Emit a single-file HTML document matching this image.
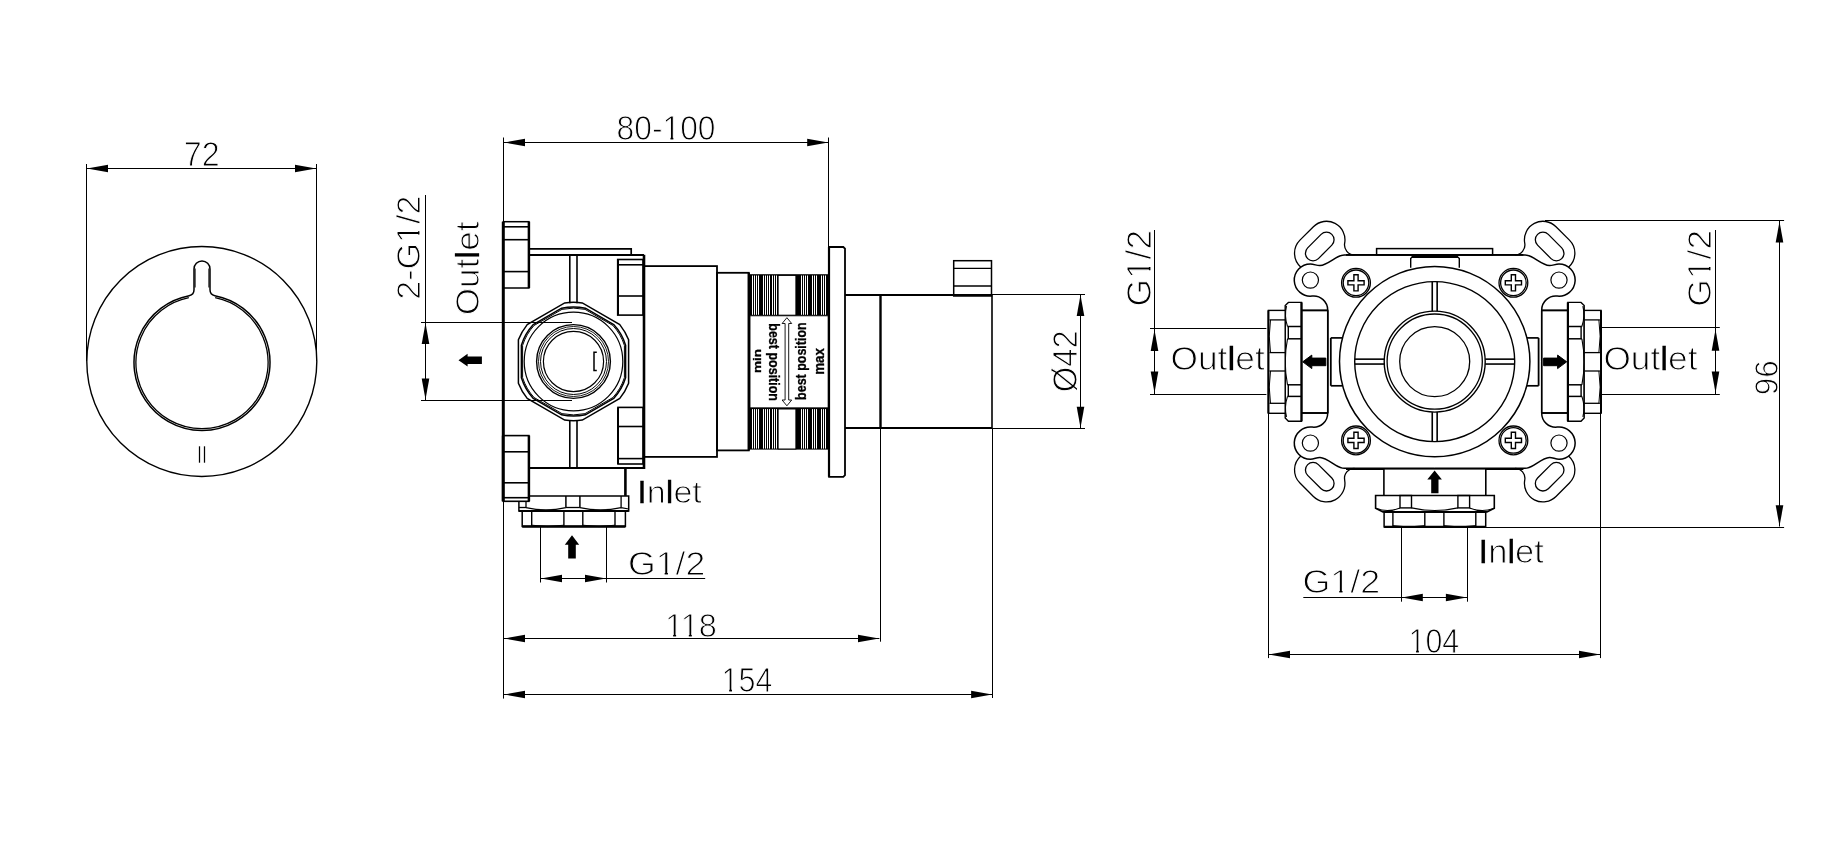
<!DOCTYPE html>
<html><head><meta charset="utf-8"><title>Drawing</title>
<style>html,body{margin:0;padding:0;background:#fff;}svg{display:block;will-change:transform;}
text{font-family:"Liberation Sans",sans-serif;fill:#000;}</style></head>
<body><svg width="1846" height="846" viewBox="0 0 1846 846">
<rect width="1846" height="846" fill="#fff"/>
<g stroke="#000" fill="none" stroke-linecap="butt">
<line x1="86.5" y1="164" x2="86.5" y2="361" stroke-width="1"/>
<line x1="316.5" y1="164" x2="316.5" y2="361" stroke-width="1"/>
<line x1="86.5" y1="168.5" x2="316.5" y2="168.5" stroke-width="1"/>
<polygon points="87,168.5 108,164.7 108,172.3" fill="#000" stroke-width="0"/>
<polygon points="316,168.5 295,164.7 295,172.3" fill="#000" stroke-width="0"/>
<text transform="translate(183.79,166.3) scale(0.32178,0.35143)" font-size="100" stroke="#fff" stroke-width="2.85">72</text>
<circle cx="201.8" cy="361.5" r="115" stroke-width="1.4" fill="none"/>
<path d="M194,269 A8,8 0 0 1 210,269 L210,289.84 A6,6 0 0 0 214.86,295.73 A68,68 0 1 1 189.14,295.73 A6,6 0 0 0 194,289.84 Z" stroke-width="1.5" fill="none"/>
<path d="M215.18,297.73 A66.1,66.1 0 1 1 188.82,297.73" stroke-width="1.3" fill="none"/>
<path d="M195.1,268.5 V287.5 M208.9,268.5 V287.5" stroke-width="1.0" fill="none"/>
<line x1="199.5" y1="446.3" x2="199.5" y2="462.7" stroke-width="1.25"/>
<line x1="204.5" y1="446.3" x2="204.5" y2="462.7" stroke-width="1.25"/>
<line x1="503.5" y1="137.5" x2="503.5" y2="221.5" stroke-width="1"/>
<line x1="828.5" y1="137.5" x2="828.5" y2="247" stroke-width="1"/>
<line x1="503.5" y1="142.5" x2="828.7" y2="142.5" stroke-width="1"/>
<polygon points="504,142.5 525,138.7 525,146.3" fill="#000" stroke-width="0"/>
<polygon points="828.2,142.5 807.2,138.7 807.2,146.3" fill="#000" stroke-width="0"/>
<text transform="translate(616.53,140.25) scale(0.31815,0.34648)" font-size="100" stroke="#fff" stroke-width="2.89">80-100</text>
<path transform="translate(616.53,140.25) scale(0.31815,0.34648)" d="M149.22,-10.4H169.48V3.42H149.22Z M178.71,-10.4H198.19V3.42H178.71Z" fill="#fff" stroke="none"/>
<line x1="425.5" y1="195" x2="425.5" y2="400.4" stroke-width="1"/>
<line x1="421" y1="322.5" x2="572" y2="322.5" stroke-width="1"/>
<line x1="421" y1="400.5" x2="572" y2="400.5" stroke-width="1"/>
<polygon points="425.5,323 421.7,344 429.3,344" fill="#000" stroke-width="0"/>
<polygon points="425.5,399.6 421.7,378.6 429.3,378.6" fill="#000" stroke-width="0"/>
<text transform="translate(420.47,299.8) rotate(-90) scale(0.34088,0.32838)" font-size="100" stroke="#fff" stroke-width="3.05">2-G1/2</text>
<path transform="translate(420.47,299.8) rotate(-90) scale(0.34088,0.32838)" d="M171.38,-10.4H191.64V3.42H171.38Z M200.87,-10.4H220.35V3.42H200.87Z" fill="#fff" stroke="none"/>
<text transform="translate(478.57,315.26) rotate(-90) scale(0.35134,0.33108)" font-size="100" stroke="#fff" stroke-width="3.02">Out<tspan stroke="#000" stroke-width="0.8">l</tspan>et</text>
<polygon points="458.5,360.2 467.6,353.8 467.6,356.4 481.9,356.4 481.9,364 467.6,364 467.6,366.6" fill="#000" stroke-width="0"/>
<rect x="503.3" y="221.7" width="25.6" height="66.3" stroke-width="1.5" fill="none"/>
<line x1="503.3" y1="226.8" x2="528.9" y2="226.8" stroke-width="1.6"/>
<line x1="503.3" y1="239.7" x2="528.9" y2="239.7" stroke-width="1.6"/>
<line x1="503.3" y1="271.6" x2="528.9" y2="271.6" stroke-width="1.6"/>
<line x1="528.9" y1="221.7" x2="528.9" y2="288" stroke-width="2.5"/>
<path d="M528.9,248.9 H631.2 V254.8" stroke-width="1.7" fill="none"/>
<line x1="528.9" y1="255" x2="644" y2="255" stroke-width="1.8"/>
<line x1="644" y1="254.8" x2="644" y2="469" stroke-width="2.6"/>
<line x1="503.3" y1="221.7" x2="503.3" y2="501.3" stroke-width="3"/>
<line x1="528.9" y1="468" x2="644" y2="468" stroke-width="1.8"/>
<line x1="569.8" y1="254.8" x2="569.8" y2="303.2" stroke-width="1.6"/>
<line x1="577" y1="254.8" x2="577" y2="303.2" stroke-width="1.6"/>
<line x1="569.8" y1="420" x2="569.8" y2="468.5" stroke-width="1.6"/>
<line x1="577" y1="420" x2="577" y2="468.5" stroke-width="1.6"/>
<rect x="617.7" y="259.5" width="25.3" height="55.6" stroke-width="1.6" fill="none"/>
<line x1="617.7" y1="264.8" x2="643" y2="264.8" stroke-width="1.6"/>
<line x1="617.7" y1="296" x2="643" y2="296" stroke-width="1.6"/>
<line x1="618" y1="259.5" x2="618" y2="315.1" stroke-width="2.0"/>
<rect x="618" y="407.4" width="25" height="56.6" stroke-width="1.6" fill="none"/>
<line x1="618" y1="426.5" x2="643" y2="426.5" stroke-width="1.6"/>
<line x1="618" y1="458.6" x2="643" y2="458.6" stroke-width="1.6"/>
<line x1="618" y1="407.4" x2="618" y2="464" stroke-width="2.0"/>
<path d="M564.7,302.96 A59.2,59.2 0 0 1 582.3,302.96 L619.8,324.61 A59.2,59.2 0 0 1 628.6,339.85 L628.6,383.15 A59.2,59.2 0 0 1 619.8,398.39 L582.3,420.04 A59.2,59.2 0 0 1 564.7,420.04 L527.2,398.39 A59.2,59.2 0 0 1 518.4,383.15 L518.4,339.85 A59.2,59.2 0 0 1 527.2,324.61 Z" stroke-width="1.5" fill="none"/>
<path d="M561.59,308.21 A54.6,54.6 0 0 1 585.41,308.21 L613.69,324.55 A54.6,54.6 0 0 1 625.6,345.17 L625.6,377.83 A54.6,54.6 0 0 1 613.69,398.45 L585.41,414.79 A54.6,54.6 0 0 1 561.59,414.79 L533.31,398.45 A54.6,54.6 0 0 1 521.4,377.83 L521.4,345.17 A54.6,54.6 0 0 1 533.31,324.55 Z" stroke-width="1.5" fill="none"/>
<path d="M562.03,309.35 A53.4,53.4 0 0 1 584.97,309.35 L612.93,325.49 A53.4,53.4 0 0 1 624.4,345.35 L624.4,377.65 A53.4,53.4 0 0 1 612.93,397.51 L584.97,413.65 A53.4,53.4 0 0 1 562.03,413.65 L534.07,397.51 A53.4,53.4 0 0 1 522.6,377.65 L522.6,345.35 A53.4,53.4 0 0 1 534.07,325.49 Z" stroke-width="1.0" fill="none"/>
<circle cx="573.5" cy="361.5" r="49.3" stroke-width="1.2" fill="none"/>
<circle cx="573.5" cy="361.5" r="36.9" stroke-width="1.4" fill="none"/>
<circle cx="573.5" cy="361.5" r="35" stroke-width="0.9" fill="none"/>
<circle cx="573.5" cy="361.5" r="33" stroke-width="1.0" fill="none"/>
<circle cx="573.5" cy="361.5" r="30.1" stroke-width="1.2" fill="none"/>
<path d="M596.8,352.3 H594 V370.4 H596.8" stroke-width="1.5" fill="none"/>
<rect x="644" y="266.1" width="73" height="190.8" stroke-width="1.8" fill="none"/>
<rect x="717" y="272.8" width="31.8" height="177.6" stroke-width="1.8" fill="none"/>
<line x1="748.8" y1="272.8" x2="748.8" y2="450.4" stroke-width="2.4"/>
<rect x="748.8" y="274.2" width="79.8" height="41.6" stroke-width="0" fill="#000"/>
<rect x="778.1" y="275.4" width="17.8" height="39.8" stroke-width="1.0" fill="#fff"/>
<line x1="752.5" y1="275.5" x2="752.5" y2="314.8" stroke="#fff" stroke-width="1"/>
<line x1="754.5" y1="275.5" x2="754.5" y2="314.8" stroke="#fff" stroke-width="1"/>
<line x1="756.5" y1="275.5" x2="756.5" y2="314.8" stroke="#fff" stroke-width="1"/>
<line x1="758.5" y1="275.5" x2="758.5" y2="314.8" stroke="#fff" stroke-width="1"/>
<line x1="763.5" y1="275.5" x2="763.5" y2="314.8" stroke="#fff" stroke-width="1"/>
<line x1="765.5" y1="275.5" x2="765.5" y2="314.8" stroke="#fff" stroke-width="1"/>
<line x1="767.5" y1="275.5" x2="767.5" y2="314.8" stroke="#fff" stroke-width="1"/>
<line x1="769.5" y1="275.5" x2="769.5" y2="314.8" stroke="#fff" stroke-width="1"/>
<line x1="772.5" y1="275.5" x2="772.5" y2="314.8" stroke="#fff" stroke-width="1"/>
<line x1="774.5" y1="275.5" x2="774.5" y2="314.8" stroke="#fff" stroke-width="1"/>
<line x1="776.5" y1="275.5" x2="776.5" y2="314.8" stroke="#fff" stroke-width="1"/>
<line x1="801.5" y1="275.5" x2="801.5" y2="314.8" stroke="#fff" stroke-width="1"/>
<line x1="803.5" y1="275.5" x2="803.5" y2="314.8" stroke="#fff" stroke-width="1"/>
<line x1="805.5" y1="275.5" x2="805.5" y2="314.8" stroke="#fff" stroke-width="1"/>
<line x1="807.5" y1="275.5" x2="807.5" y2="314.8" stroke="#fff" stroke-width="1"/>
<line x1="812.5" y1="275.5" x2="812.5" y2="314.8" stroke="#fff" stroke-width="1"/>
<line x1="814.5" y1="275.5" x2="814.5" y2="314.8" stroke="#fff" stroke-width="1"/>
<line x1="816.5" y1="275.5" x2="816.5" y2="314.8" stroke="#fff" stroke-width="1"/>
<line x1="821.5" y1="275.5" x2="821.5" y2="314.8" stroke="#fff" stroke-width="1"/>
<line x1="823.5" y1="275.5" x2="823.5" y2="314.8" stroke="#fff" stroke-width="1"/>
<line x1="825.5" y1="275.5" x2="825.5" y2="314.8" stroke="#fff" stroke-width="1"/>
<rect x="748.8" y="407.8" width="79.8" height="41.8" stroke-width="0" fill="#000"/>
<rect x="778.1" y="409" width="17.8" height="40" stroke-width="1.0" fill="#fff"/>
<line x1="752.5" y1="409.1" x2="752.5" y2="448.6" stroke="#fff" stroke-width="1"/>
<line x1="754.5" y1="409.1" x2="754.5" y2="448.6" stroke="#fff" stroke-width="1"/>
<line x1="756.5" y1="409.1" x2="756.5" y2="448.6" stroke="#fff" stroke-width="1"/>
<line x1="758.5" y1="409.1" x2="758.5" y2="448.6" stroke="#fff" stroke-width="1"/>
<line x1="763.5" y1="409.1" x2="763.5" y2="448.6" stroke="#fff" stroke-width="1"/>
<line x1="765.5" y1="409.1" x2="765.5" y2="448.6" stroke="#fff" stroke-width="1"/>
<line x1="767.5" y1="409.1" x2="767.5" y2="448.6" stroke="#fff" stroke-width="1"/>
<line x1="769.5" y1="409.1" x2="769.5" y2="448.6" stroke="#fff" stroke-width="1"/>
<line x1="772.5" y1="409.1" x2="772.5" y2="448.6" stroke="#fff" stroke-width="1"/>
<line x1="774.5" y1="409.1" x2="774.5" y2="448.6" stroke="#fff" stroke-width="1"/>
<line x1="776.5" y1="409.1" x2="776.5" y2="448.6" stroke="#fff" stroke-width="1"/>
<line x1="801.5" y1="409.1" x2="801.5" y2="448.6" stroke="#fff" stroke-width="1"/>
<line x1="803.5" y1="409.1" x2="803.5" y2="448.6" stroke="#fff" stroke-width="1"/>
<line x1="805.5" y1="409.1" x2="805.5" y2="448.6" stroke="#fff" stroke-width="1"/>
<line x1="807.5" y1="409.1" x2="807.5" y2="448.6" stroke="#fff" stroke-width="1"/>
<line x1="812.5" y1="409.1" x2="812.5" y2="448.6" stroke="#fff" stroke-width="1"/>
<line x1="814.5" y1="409.1" x2="814.5" y2="448.6" stroke="#fff" stroke-width="1"/>
<line x1="816.5" y1="409.1" x2="816.5" y2="448.6" stroke="#fff" stroke-width="1"/>
<line x1="821.5" y1="409.1" x2="821.5" y2="448.6" stroke="#fff" stroke-width="1"/>
<line x1="823.5" y1="409.1" x2="823.5" y2="448.6" stroke="#fff" stroke-width="1"/>
<line x1="825.5" y1="409.1" x2="825.5" y2="448.6" stroke="#fff" stroke-width="1"/>
<rect x="750" y="315.8" width="78.2" height="92" stroke-width="0.9" fill="#fff"/>
<text transform="translate(760.95,373.1) rotate(-90) scale(0.13576,0.11370)" font-size="100" font-weight="bold" stroke="#000" stroke-width="2.64">min</text>
<text transform="translate(769.47,323.28) rotate(90) scale(0.12496,0.14362)" font-size="100" font-weight="bold" stroke="#000" stroke-width="2.09">best position</text>
<text transform="translate(805.7,399.92) rotate(-90) scale(0.12479,0.15000)" font-size="100" font-weight="bold" stroke="#000" stroke-width="2.00">best position</text>
<text transform="translate(824.01,374.68) rotate(-90) scale(0.13281,0.13818)" font-size="100" font-weight="bold" stroke="#000" stroke-width="2.17">max</text>
<path d="M786.9,317.7 L791.7,323.5 L788.7,323.5 L788.7,400 L791.7,400 L786.9,405.8 L782.1,400 L785.1,400 L785.1,323.5 L782.1,323.5 Z" stroke-width="0.9" fill="#fff"/>
<path d="M829.1,247 H843.3 L845,248.7 V475.1 L843.3,476.8 H829.1 Z" stroke-width="1.8" fill="none"/>
<line x1="829" y1="247" x2="829" y2="476.8" stroke-width="2.2"/>
<line x1="845" y1="295" x2="992" y2="295" stroke-width="1.8"/>
<line x1="845" y1="428" x2="992" y2="428" stroke-width="1.8"/>
<line x1="880.5" y1="294.6" x2="880.5" y2="428.2" stroke-width="2.4"/>
<line x1="992" y1="294.6" x2="992" y2="428.2" stroke-width="1.6"/>
<rect x="953.7" y="260.7" width="37.8" height="35.3" stroke-width="1.5" fill="none"/>
<line x1="953.7" y1="268.4" x2="991.5" y2="268.4" stroke-width="1.4"/>
<line x1="953.7" y1="286" x2="991.5" y2="286" stroke-width="1.4"/>
<line x1="880.5" y1="428.2" x2="880.5" y2="641.7" stroke-width="1"/>
<line x1="992.5" y1="428.2" x2="992.5" y2="698" stroke-width="1"/>
<line x1="992" y1="294.5" x2="1085" y2="294.5" stroke-width="1"/>
<line x1="992" y1="428.5" x2="1085" y2="428.5" stroke-width="1"/>
<line x1="1080.5" y1="294.5" x2="1080.5" y2="428.2" stroke-width="1"/>
<polygon points="1080.5,295 1076.7,316 1084.3,316" fill="#000" stroke-width="0"/>
<polygon points="1080.5,427.7 1076.7,406.7 1084.3,406.7" fill="#000" stroke-width="0"/>
<text transform="translate(1077.42,392.21) rotate(-90) scale(0.32833,0.34189)" font-size="100" stroke="#fff" stroke-width="2.92">Ø42</text>
<line x1="528.4" y1="468.5" x2="528.4" y2="495.9" stroke-width="1.5"/>
<line x1="625.4" y1="468.5" x2="625.4" y2="495.9" stroke-width="2.6"/>
<path d="M528.4,495.9 H628.7 V510.9 H518.9 V501.4" stroke-width="1.5" fill="#fff"/>
<line x1="518.9" y1="511" x2="628.7" y2="511" stroke-width="2.0"/>
<line x1="526" y1="501.4" x2="526" y2="507.5" stroke-width="1.3"/>
<line x1="518.9" y1="507.5" x2="526" y2="507.5" stroke-width="1.3"/>
<line x1="565.9" y1="495.9" x2="565.9" y2="507.5" stroke-width="1.5"/>
<line x1="579.9" y1="495.9" x2="579.9" y2="507.5" stroke-width="1.5"/>
<line x1="621.1" y1="495.9" x2="621.1" y2="507.5" stroke-width="1.3"/>
<line x1="565.9" y1="507.5" x2="579.9" y2="507.5" stroke-width="1.3"/>
<path d="M526,507.6 Q546,512.2 565.9,507.6 M579.9,507.6 Q600.5,512.2 621.1,507.6 M621.1,507.6 L628.7,509" stroke-width="1.1" fill="none"/>
<rect x="522.2" y="510.9" width="103.2" height="15.5" stroke-width="1.5" fill="none"/>
<line x1="522.2" y1="526.4" x2="625.4" y2="526.4" stroke-width="2.5"/>
<line x1="531.7" y1="510.9" x2="531.7" y2="526.4" stroke-width="1.4"/>
<line x1="563.9" y1="510.9" x2="563.9" y2="526.4" stroke-width="1.4"/>
<line x1="582.8" y1="510.9" x2="582.8" y2="526.4" stroke-width="1.4"/>
<line x1="615" y1="510.9" x2="615" y2="526.4" stroke-width="1.4"/>
<path d="M531.7,525.2 Q547.8,528 563.9,525.2 M582.8,525.2 Q598.9,528 615,525.2" stroke-width="1.0" fill="none"/>
<rect x="503.3" y="435.6" width="25.6" height="65.7" stroke-width="1.6" fill="#fff"/>
<line x1="528.9" y1="435.6" x2="528.9" y2="501.3" stroke-width="2.5"/>
<line x1="503.3" y1="451.8" x2="528.9" y2="451.8" stroke-width="1.6"/>
<line x1="503.3" y1="482.8" x2="528.9" y2="482.8" stroke-width="1.6"/>
<line x1="503.3" y1="497.7" x2="528.9" y2="497.7" stroke-width="1.6"/>
<line x1="503.3" y1="435.6" x2="503.3" y2="501.3" stroke-width="3"/>
<line x1="540.5" y1="527" x2="540.5" y2="582.5" stroke-width="1"/>
<line x1="606.5" y1="527" x2="606.5" y2="582.5" stroke-width="1"/>
<line x1="540.5" y1="578.5" x2="705.2" y2="578.5" stroke-width="1"/>
<polygon points="541,578.5 562,574.7 562,582.3" fill="#000" stroke-width="0"/>
<polygon points="606,578.5 585,574.7 585,582.3" fill="#000" stroke-width="0"/>
<text transform="translate(628.12,574.76) scale(0.35556,0.33784)" font-size="100" stroke="#fff" stroke-width="2.96">G1/2</text>
<path transform="translate(628.12,574.76) scale(0.35556,0.33784)" d="M82.47,-10.4H102.73V3.42H82.47Z M111.96,-10.4H131.44V3.42H111.96Z" fill="#fff" stroke="none"/>
<polygon points="572,535.3 579.2,544.7 575.8,544.7 575.8,558.6 568.2,558.6 568.2,544.7 564.8,544.7" fill="#000" stroke-width="0"/>
<text transform="translate(637.33,503.08) scale(0.34134,0.32027)" font-size="100" stroke="#fff" stroke-width="3.12"><tspan stroke="#000" stroke-width="0.8">I</tspan>n<tspan stroke="#000" stroke-width="0.8">l</tspan>et</text>
<line x1="503.5" y1="501.3" x2="503.5" y2="698.6" stroke-width="1"/>
<line x1="503.5" y1="638.5" x2="879.4" y2="638.5" stroke-width="1"/>
<polygon points="504,638.5 525,634.7 525,642.3" fill="#000" stroke-width="0"/>
<polygon points="879,638.5 858,634.7 858,642.3" fill="#000" stroke-width="0"/>
<text transform="translate(664.99,636.56) scale(0.32585,0.33803)" font-size="100" stroke="#fff" stroke-width="2.96">118</text>
<path transform="translate(664.99,636.56) scale(0.32585,0.33803)" d="M4.69,-10.4H24.95V3.42H4.69Z M34.18,-10.4H53.66V3.42H34.18Z M52.88,-10.4H73.14V3.42H52.88Z M82.37,-10.4H101.85V3.42H82.37Z" fill="#fff" stroke="none"/>
<line x1="503.5" y1="694.5" x2="992.6" y2="694.5" stroke-width="1"/>
<polygon points="504,694.5 525,690.7 525,698.3" fill="#000" stroke-width="0"/>
<polygon points="992.1,694.5 971.1,690.7 971.1,698.3" fill="#000" stroke-width="0"/>
<text transform="translate(721.56,692.35) scale(0.30513,0.34571)" font-size="100" stroke="#fff" stroke-width="2.89">154</text>
<path transform="translate(721.56,692.35) scale(0.30513,0.34571)" d="M4.69,-10.4H24.95V3.42H4.69Z M34.18,-10.4H53.66V3.42H34.18Z" fill="#fff" stroke="none"/>
<!--RIGHT-->
<g id="qtl"><path d="M1327.7,361.6 V310.02 A14,14 0 0 0 1312.17,296.1 A16.1,16.1 0 1 1 1310.4,264 C1314,264 1317,265.8 1320,265.6 C1325,265.3 1330,261.5 1335.5,258.1 C1339,256 1341.5,254.9 1344.3,254.9 H1434.7" stroke-width="1.5" fill="none"/>
<path d="M1300.85,267.14 A18.5,18.5 0 0 1 1299.95,240.14 L1313.39,226.7 A18.5,18.5 0 0 1 1344.67,243.1 A10,10 0 0 0 1354.5,254.9" stroke-width="1.3" fill="none"/>
<rect x="1302.65" y="238.9" width="34.2" height="15.2" rx="7.6" transform="rotate(-45 1319.75 246.5)" stroke-width="1.3" fill="none"/>
<circle cx="1310.4" cy="280.1" r="8.1" stroke-width="1.2" fill="none"/>
<circle cx="1356" cy="282.8" r="14.4" stroke-width="1.3" fill="none"/>
<circle cx="1356" cy="282.8" r="12.8" stroke-width="1.3" fill="none"/>
<path d="M1353.9,274.7 H1358.1 V280.7 H1364.1 V284.9 H1358.1 V290.9 H1353.9 V284.9 H1347.9 V280.7 H1353.9 Z" stroke-width="1.4" fill="none"/></g>
<g transform="matrix(-1,0,0,1,2869.4,0)"><path d="M1327.7,361.6 V310.02 A14,14 0 0 0 1312.17,296.1 A16.1,16.1 0 1 1 1310.4,264 C1314,264 1317,265.8 1320,265.6 C1325,265.3 1330,261.5 1335.5,258.1 C1339,256 1341.5,254.9 1344.3,254.9 H1434.7" stroke-width="1.5" fill="none"/>
<path d="M1300.85,267.14 A18.5,18.5 0 0 1 1299.95,240.14 L1313.39,226.7 A18.5,18.5 0 0 1 1344.67,243.1 A10,10 0 0 0 1354.5,254.9" stroke-width="1.3" fill="none"/>
<rect x="1302.65" y="238.9" width="34.2" height="15.2" rx="7.6" transform="rotate(-45 1319.75 246.5)" stroke-width="1.3" fill="none"/>
<circle cx="1310.4" cy="280.1" r="8.1" stroke-width="1.2" fill="none"/>
<circle cx="1356" cy="282.8" r="14.4" stroke-width="1.3" fill="none"/>
<circle cx="1356" cy="282.8" r="12.8" stroke-width="1.3" fill="none"/>
<path d="M1353.9,274.7 H1358.1 V280.7 H1364.1 V284.9 H1358.1 V290.9 H1353.9 V284.9 H1347.9 V280.7 H1353.9 Z" stroke-width="1.4" fill="none"/></g>
<g transform="matrix(1,0,0,-1,0,723.2)"><path d="M1327.7,361.6 V310.02 A14,14 0 0 0 1312.17,296.1 A16.1,16.1 0 1 1 1310.4,264 C1314,264 1317,265.8 1320,265.6 C1325,265.3 1330,261.5 1335.5,258.1 C1339,256 1341.5,254.9 1344.3,254.9 H1434.7" stroke-width="1.5" fill="none"/>
<path d="M1300.85,267.14 A18.5,18.5 0 0 1 1299.95,240.14 L1313.39,226.7 A18.5,18.5 0 0 1 1344.67,243.1 A10,10 0 0 0 1354.5,254.9" stroke-width="1.3" fill="none"/>
<rect x="1302.65" y="238.9" width="34.2" height="15.2" rx="7.6" transform="rotate(-45 1319.75 246.5)" stroke-width="1.3" fill="none"/>
<circle cx="1310.4" cy="280.1" r="8.1" stroke-width="1.2" fill="none"/>
<circle cx="1356" cy="282.8" r="14.4" stroke-width="1.3" fill="none"/>
<circle cx="1356" cy="282.8" r="12.8" stroke-width="1.3" fill="none"/>
<path d="M1353.9,274.7 H1358.1 V280.7 H1364.1 V284.9 H1358.1 V290.9 H1353.9 V284.9 H1347.9 V280.7 H1353.9 Z" stroke-width="1.4" fill="none"/></g>
<g transform="matrix(-1,0,0,-1,2869.4,723.2)"><path d="M1327.7,361.6 V310.02 A14,14 0 0 0 1312.17,296.1 A16.1,16.1 0 1 1 1310.4,264 C1314,264 1317,265.8 1320,265.6 C1325,265.3 1330,261.5 1335.5,258.1 C1339,256 1341.5,254.9 1344.3,254.9 H1434.7" stroke-width="1.5" fill="none"/>
<path d="M1300.85,267.14 A18.5,18.5 0 0 1 1299.95,240.14 L1313.39,226.7 A18.5,18.5 0 0 1 1344.67,243.1 A10,10 0 0 0 1354.5,254.9" stroke-width="1.3" fill="none"/>
<rect x="1302.65" y="238.9" width="34.2" height="15.2" rx="7.6" transform="rotate(-45 1319.75 246.5)" stroke-width="1.3" fill="none"/>
<circle cx="1310.4" cy="280.1" r="8.1" stroke-width="1.2" fill="none"/>
<circle cx="1356" cy="282.8" r="14.4" stroke-width="1.3" fill="none"/>
<circle cx="1356" cy="282.8" r="12.8" stroke-width="1.3" fill="none"/>
<path d="M1353.9,274.7 H1358.1 V280.7 H1364.1 V284.9 H1358.1 V290.9 H1353.9 V284.9 H1347.9 V280.7 H1353.9 Z" stroke-width="1.4" fill="none"/></g>
<g><rect x="1330.8" y="337.9" width="11.6" height="47.9" fill="#fff" stroke="none"/>
<line x1="1330.8" y1="337.9" x2="1342.4" y2="337.9" stroke-width="1.7"/>
<line x1="1330.8" y1="385.8" x2="1342.4" y2="385.8" stroke-width="1.7"/>
<line x1="1330.8" y1="337.9" x2="1330.8" y2="385.8" stroke-width="1.8"/>
<rect x="1301.5" y="310.4" width="26.2" height="102.6" stroke-width="1.3" fill="#fff"/>
<line x1="1301.5" y1="310.4" x2="1327.7" y2="310.4" stroke-width="1.8"/>
<line x1="1301.5" y1="413" x2="1327.7" y2="413" stroke-width="1.8"/>
<line x1="1327.7" y1="310.4" x2="1327.7" y2="413" stroke-width="1.5"/>
<path d="M1288.4,302.4 H1301.5 V421.2 H1288.4 L1285.2,418 V305.6 Z" stroke-width="1.4" fill="#fff"/>
<line x1="1301.5" y1="302.4" x2="1301.5" y2="421.2" stroke-width="2.2"/>
<line x1="1287.5" y1="326.5" x2="1301.5" y2="326.5" stroke-width="1.5"/>
<line x1="1287.5" y1="338.8" x2="1301.5" y2="338.8" stroke-width="1.5"/>
<line x1="1287.5" y1="384.8" x2="1301.5" y2="384.8" stroke-width="1.5"/>
<line x1="1287.5" y1="396.4" x2="1301.5" y2="396.4" stroke-width="1.5"/>
<line x1="1288.3" y1="326.5" x2="1288.3" y2="338.8" stroke-width="1.4"/>
<line x1="1288.3" y1="384.8" x2="1288.3" y2="396.4" stroke-width="1.4"/>
<path d="M1286.5,306 Q1284,316 1287.5,326.5 M1287.5,338.8 Q1283,361.6 1287.5,384.8 M1287.5,396.4 Q1284,407 1286.5,417" stroke-width="1.1" fill="none"/>
<rect x="1268.4" y="310.4" width="16.8" height="102.9" stroke-width="1.4" fill="#fff"/>
<line x1="1268.4" y1="310.4" x2="1268.4" y2="413.3" stroke-width="2.0"/>
<line x1="1269.5" y1="319.9" x2="1285.2" y2="319.9" stroke-width="1.3"/>
<line x1="1269.5" y1="352.6" x2="1285.2" y2="352.6" stroke-width="1.3"/>
<line x1="1269.5" y1="371" x2="1285.2" y2="371" stroke-width="1.3"/>
<line x1="1269.5" y1="403.3" x2="1285.2" y2="403.3" stroke-width="1.3"/>
<path d="M1270.5,320 Q1268,336 1270.5,352.6 M1270.5,371 Q1268,387 1270.5,403.3" stroke-width="1.0" fill="none"/>
<polygon points="1302.7,361.8 1311.8,355.1 1311.8,358.1 1325.8,358.1 1325.8,365.7 1311.8,365.7 1311.8,368.6" fill="#000"/></g>
<g transform="matrix(-1,0,0,1,2869.4,0)"><rect x="1330.8" y="337.9" width="11.6" height="47.9" fill="#fff" stroke="none"/>
<line x1="1330.8" y1="337.9" x2="1342.4" y2="337.9" stroke-width="1.7"/>
<line x1="1330.8" y1="385.8" x2="1342.4" y2="385.8" stroke-width="1.7"/>
<line x1="1330.8" y1="337.9" x2="1330.8" y2="385.8" stroke-width="1.8"/>
<rect x="1301.5" y="310.4" width="26.2" height="102.6" stroke-width="1.3" fill="#fff"/>
<line x1="1301.5" y1="310.4" x2="1327.7" y2="310.4" stroke-width="1.8"/>
<line x1="1301.5" y1="413" x2="1327.7" y2="413" stroke-width="1.8"/>
<line x1="1327.7" y1="310.4" x2="1327.7" y2="413" stroke-width="1.5"/>
<path d="M1288.4,302.4 H1301.5 V421.2 H1288.4 L1285.2,418 V305.6 Z" stroke-width="1.4" fill="#fff"/>
<line x1="1301.5" y1="302.4" x2="1301.5" y2="421.2" stroke-width="2.2"/>
<line x1="1287.5" y1="326.5" x2="1301.5" y2="326.5" stroke-width="1.5"/>
<line x1="1287.5" y1="338.8" x2="1301.5" y2="338.8" stroke-width="1.5"/>
<line x1="1287.5" y1="384.8" x2="1301.5" y2="384.8" stroke-width="1.5"/>
<line x1="1287.5" y1="396.4" x2="1301.5" y2="396.4" stroke-width="1.5"/>
<line x1="1288.3" y1="326.5" x2="1288.3" y2="338.8" stroke-width="1.4"/>
<line x1="1288.3" y1="384.8" x2="1288.3" y2="396.4" stroke-width="1.4"/>
<path d="M1286.5,306 Q1284,316 1287.5,326.5 M1287.5,338.8 Q1283,361.6 1287.5,384.8 M1287.5,396.4 Q1284,407 1286.5,417" stroke-width="1.1" fill="none"/>
<rect x="1268.4" y="310.4" width="16.8" height="102.9" stroke-width="1.4" fill="#fff"/>
<line x1="1268.4" y1="310.4" x2="1268.4" y2="413.3" stroke-width="2.0"/>
<line x1="1269.5" y1="319.9" x2="1285.2" y2="319.9" stroke-width="1.3"/>
<line x1="1269.5" y1="352.6" x2="1285.2" y2="352.6" stroke-width="1.3"/>
<line x1="1269.5" y1="371" x2="1285.2" y2="371" stroke-width="1.3"/>
<line x1="1269.5" y1="403.3" x2="1285.2" y2="403.3" stroke-width="1.3"/>
<path d="M1270.5,320 Q1268,336 1270.5,352.6 M1270.5,371 Q1268,387 1270.5,403.3" stroke-width="1.0" fill="none"/>
<polygon points="1302.7,361.8 1311.8,355.1 1311.8,358.1 1325.8,358.1 1325.8,365.7 1311.8,365.7 1311.8,368.6" fill="#000"/></g>
<circle cx="1434.7" cy="361.6" r="95.2" stroke-width="1.5" fill="none"/>
<circle cx="1434.7" cy="361.6" r="80" stroke-width="1.4" fill="none"/>
<circle cx="1434.7" cy="361.6" r="50.5" stroke-width="1.4" fill="none"/>
<circle cx="1434.7" cy="361.6" r="47.6" stroke-width="1.3" fill="none"/>
<circle cx="1434.7" cy="361.6" r="35" stroke-width="1.3" fill="none"/>
<line x1="1432.25" y1="311.1" x2="1432.25" y2="281.6" stroke-width="1.6"/>
<line x1="1437.15" y1="311.1" x2="1437.15" y2="281.6" stroke-width="1.6"/>
<line x1="1432.25" y1="412.1" x2="1432.25" y2="441.6" stroke-width="1.6"/>
<line x1="1437.15" y1="412.1" x2="1437.15" y2="441.6" stroke-width="1.6"/>
<line x1="1384.2" y1="359.15" x2="1354.7" y2="359.15" stroke-width="1.6"/>
<line x1="1384.2" y1="364.05" x2="1354.7" y2="364.05" stroke-width="1.6"/>
<line x1="1485.2" y1="359.15" x2="1514.7" y2="359.15" stroke-width="1.6"/>
<line x1="1485.2" y1="364.05" x2="1514.7" y2="364.05" stroke-width="1.6"/>
<rect x="1376.6" y="248.6" width="116" height="6.3" stroke-width="1.5" fill="none"/>
<line x1="1346" y1="254.9" x2="1523.4" y2="254.9" stroke-width="1.7"/>
<line x1="1346" y1="469" x2="1523.4" y2="469" stroke-width="1.9"/>
<rect x="1411.7" y="254.9" width="46.3" height="2.4" stroke-width="0" fill="#000"/>
<path d="M1410.7,267.8 V258.5 L1411.9,257.3 H1458 L1459.3,258.5 V267.8" stroke-width="1.4" fill="none"/>
<rect x="1383.9" y="469.6" width="101.9" height="25.9" fill="#fff" stroke="none"/>
<line x1="1383.9" y1="468.8" x2="1383.9" y2="495.5" stroke-width="1.6"/>
<line x1="1485.8" y1="468.8" x2="1485.8" y2="495.5" stroke-width="1.6"/>
<path d="M1375.6,495.5 H1494.3 V508.3 L1487,511.9 H1382.9 L1375.6,508.3 Z" stroke-width="1.6" fill="#fff"/>
<rect x="1400" y="495.5" width="11.5" height="12.4" stroke-width="1.4" fill="none"/>
<rect x="1457.9" y="495.5" width="11.7" height="12.4" stroke-width="1.4" fill="none"/>
<path d="M1375.6,508.3 Q1388,513 1400,507.9 M1411.5,507.9 Q1434.7,513 1457.9,507.9 M1469.6,507.9 Q1481.5,513 1494.3,508.3" stroke-width="1.1" fill="none"/>
<rect x="1384.1" y="511.9" width="101.6" height="15" stroke-width="1.5" fill="none"/>
<line x1="1384.1" y1="512" x2="1485.7" y2="512" stroke-width="2.0"/>
<line x1="1384.1" y1="526.9" x2="1485.7" y2="526.9" stroke-width="2.4"/>
<line x1="1392.9" y1="511.9" x2="1392.9" y2="526.9" stroke-width="1.4"/>
<line x1="1424.8" y1="511.9" x2="1424.8" y2="526.9" stroke-width="1.4"/>
<line x1="1443.9" y1="511.9" x2="1443.9" y2="526.9" stroke-width="1.4"/>
<line x1="1475.8" y1="511.9" x2="1475.8" y2="526.9" stroke-width="1.4"/>
<path d="M1392.9,525.6 Q1408.8,528.4 1424.8,525.6 M1443.9,525.6 Q1459.8,528.4 1475.8,525.6" stroke-width="1.0" fill="none"/>
<polygon points="1434.6,470.4 1441.9,479.5 1438.5,479.5 1438.5,493.3 1431.2,493.3 1431.2,479.5 1427.3,479.5" fill="#000" stroke-width="0"/>
<line x1="1154.5" y1="230" x2="1154.5" y2="394.3" stroke-width="1"/>
<line x1="1150" y1="328.5" x2="1266.4" y2="328.5" stroke-width="1"/>
<line x1="1150" y1="394.5" x2="1266.4" y2="394.5" stroke-width="1"/>
<polygon points="1154.5,329.7 1150.7,351.1 1158.3,351.1" fill="#000" stroke-width="0"/>
<polygon points="1154.5,392.9 1150.7,371.5 1158.3,371.5" fill="#000" stroke-width="0"/>
<text transform="translate(1150.75,306.47) rotate(-90) scale(0.35314,0.34595)" font-size="100" stroke="#fff" stroke-width="2.89">G1/2</text>
<path transform="translate(1150.75,306.47) rotate(-90) scale(0.35314,0.34595)" d="M82.47,-10.4H102.73V3.42H82.47Z M111.96,-10.4H131.44V3.42H111.96Z" fill="#fff" stroke="none"/>
<text transform="translate(1170.43,370.16) scale(0.35364,0.33649)" font-size="100" stroke="#fff" stroke-width="2.97">Out<tspan stroke="#000" stroke-width="0.8">l</tspan>et</text>
<line x1="1715.5" y1="230" x2="1715.5" y2="394.2" stroke-width="1"/>
<line x1="1601.6" y1="327.5" x2="1719.8" y2="327.5" stroke-width="1"/>
<line x1="1601.6" y1="394.5" x2="1719.8" y2="394.5" stroke-width="1"/>
<polygon points="1715.5,329.4 1711.7,350.8 1719.3,350.8" fill="#000" stroke-width="0"/>
<polygon points="1715.5,392.8 1711.7,371.4 1719.3,371.4" fill="#000" stroke-width="0"/>
<text transform="translate(1710.77,306.67) rotate(-90) scale(0.35411,0.32703)" font-size="100" stroke="#fff" stroke-width="3.06">G1/2</text>
<path transform="translate(1710.77,306.67) rotate(-90) scale(0.35411,0.32703)" d="M82.47,-10.4H102.73V3.42H82.47Z M111.96,-10.4H131.44V3.42H111.96Z" fill="#fff" stroke="none"/>
<text transform="translate(1603.44,370.16) scale(0.35249,0.33649)" font-size="100" stroke="#fff" stroke-width="2.97">Out<tspan stroke="#000" stroke-width="0.8">l</tspan>et</text>
<line x1="1779.5" y1="220.9" x2="1779.5" y2="526.5" stroke-width="1"/>
<line x1="1545" y1="220.5" x2="1784.1" y2="220.5" stroke-width="1"/>
<line x1="1485.3" y1="527.5" x2="1784.1" y2="527.5" stroke-width="1"/>
<polygon points="1779.5,221.5 1775.7,242.5 1783.3,242.5" fill="#000" stroke-width="0"/>
<polygon points="1779.5,526.3 1775.7,505.3 1783.3,505.3" fill="#000" stroke-width="0"/>
<text transform="translate(1777.66,395.28) rotate(-90) scale(0.31569,0.33944)" font-size="100" stroke="#fff" stroke-width="2.95">96</text>
<line x1="1268.5" y1="413.3" x2="1268.5" y2="658.1" stroke-width="1"/>
<line x1="1600.5" y1="413.3" x2="1600.5" y2="658.1" stroke-width="1"/>
<line x1="1268.4" y1="654.5" x2="1600.6" y2="654.5" stroke-width="1"/>
<polygon points="1269,654.5 1290,650.7 1290,658.3" fill="#000" stroke-width="0"/>
<polygon points="1600,654.5 1579,650.7 1579,658.3" fill="#000" stroke-width="0"/>
<text transform="translate(1408.46,652.55) scale(0.30449,0.34648)" font-size="100" stroke="#fff" stroke-width="2.89">104</text>
<path transform="translate(1408.46,652.55) scale(0.30449,0.34648)" d="M4.69,-10.4H24.95V3.42H4.69Z M34.18,-10.4H53.66V3.42H34.18Z" fill="#fff" stroke="none"/>
<line x1="1401.5" y1="527.1" x2="1401.5" y2="601.7" stroke-width="1"/>
<line x1="1467.5" y1="527.1" x2="1467.5" y2="601.7" stroke-width="1"/>
<line x1="1303.3" y1="597.5" x2="1467.4" y2="597.5" stroke-width="1"/>
<polygon points="1401.8,597.5 1422.8,593.7 1422.8,601.3" fill="#000" stroke-width="0"/>
<polygon points="1466.9,597.5 1445.9,593.7 1445.9,601.3" fill="#000" stroke-width="0"/>
<text transform="translate(1302.41,593.17) scale(0.35845,0.33243)" font-size="100" stroke="#fff" stroke-width="3.01">G1/2</text>
<path transform="translate(1302.41,593.17) scale(0.35845,0.33243)" d="M82.47,-10.4H102.73V3.42H82.47Z M111.96,-10.4H131.44V3.42H111.96Z" fill="#fff" stroke="none"/>
<text transform="translate(1478.59,563.36) scale(0.34525,0.33514)" font-size="100" stroke="#fff" stroke-width="2.98"><tspan stroke="#000" stroke-width="0.8">I</tspan>n<tspan stroke="#000" stroke-width="0.8">l</tspan>et</text>
</g></svg></body></html>
